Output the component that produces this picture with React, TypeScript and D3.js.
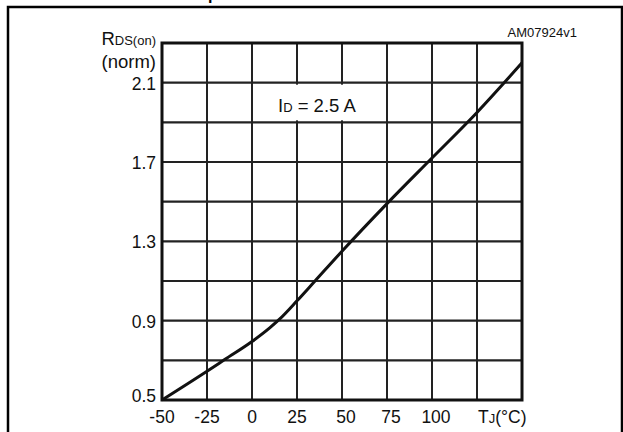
import React from "react";
import * as d3 from "d3";

const temps = [-50, -25, -15, 0, 10, 15, 25, 35, 50, 75, 100, 125, 150];
const rdsNorm = [0.5, 0.645, 0.705, 0.795, 0.865, 0.905, 1.0, 1.1, 1.25, 1.49, 1.72, 1.95, 2.2];
const xTicks = [-50, -25, 0, 25, 50, 75, 100];
const xGrid = [-50, -25, 0, 25, 50, 75, 100, 125, 150];
const yTicks = [0.5, 0.9, 1.3, 1.7, 2.1];
const yGrid = [0.5, 0.7, 0.9, 1.1, 1.3, 1.5, 1.7, 1.9, 2.1, 2.3];

const W = 623;
const H = 432;
const FONT = "'Liberation Sans', Arial, Helvetica, sans-serif";

export default function App() {
  const x = d3.scaleLinear().domain([-50, 150]).range([162, 522]);
  const y = d3.scaleLinear().domain([0.5, 2.3]).range([400, 43]);
  const pts: [number, number][] = temps.map((t, i) => [t, rdsNorm[i]]);
  const line = d3
    .line<[number, number]>()
    .x((d) => x(d[0]))
    .y((d) => y(d[1]))
    .curve(d3.curveMonotoneX);

  return (
    <svg
      width={W}
      height={H}
      style={{ position: "absolute", left: 0, top: 0, display: "block", background: "#fff" }}
      fontFamily={FONT}
    >
      <rect x={0} y={0} width={W} height={H} fill="#fff" />
      {/* cut-off title fragment */}
      <text x={208} y={0} fontSize={16} fontWeight="bold" fill="#000">p</text>
      {/* outer frame */}
      <path d={`M8,${H + 2} V7 H622 V${H + 2}`} fill="none" stroke="#000" strokeWidth={2.5} />

      {/* grid */}
      {xGrid.map((t) => (
        <line key={"vx" + t} x1={x(t)} x2={x(t)} y1={y(2.3)} y2={y(0.5)} stroke="#222" strokeWidth={2} />
      ))}
      {yGrid.map((v) => (
        <line key={"hy" + v} x1={x(-50)} x2={x(150)} y1={y(v)} y2={y(v)} stroke="#222" strokeWidth={2.2} />
      ))}

      {/* label box */}
      <rect x={268} y={y(2.1) + 2} width={112} height={y(1.9) - y(2.1) - 4} fill="#fff" />
      <text x={278} y={112} fontSize={18.5} fill="#111">
        I<tspan fontSize={13}>D</tspan> = 2.5 A
      </text>

      {/* border */}
      <rect
        x={x(-50)}
        y={y(2.3)}
        width={x(150) - x(-50)}
        height={y(0.5) - y(2.3)}
        fill="none"
        stroke="#111"
        strokeWidth={3}
      />

      {/* curve */}
      <path d={line(pts) || ""} fill="none" stroke="#111" strokeWidth={3} strokeLinejoin="round" />

      {/* y tick labels */}
      {yTicks.map((v) => (
        <text
          key={"yl" + v}
          x={156}
          y={v === 0.5 ? y(v) + 2 : y(v) + 7}
          textAnchor="end"
          fontSize={17.5}
          fill="#111"
        >
          {v.toFixed(1)}
        </text>
      ))}
      {/* x tick labels */}
      {xTicks.map((t) => (
        <text key={"xl" + t} x={x(t) + (t >= 50 ? 4 : 0)} y={423} textAnchor="middle" fontSize={17.5} fill="#111">
          {t}
        </text>
      ))}
      <text x={478} y={423} fontSize={17.5} fill="#111">
        T<tspan fontSize={13}>J</tspan>(°C)
      </text>

      {/* axis title */}
      <text x={156} y={45} textAnchor="end" fontSize={18.5} fill="#111">
        R<tspan fontSize={13}>DS(on)</tspan>
      </text>
      <text x={156} y={68} textAnchor="end" fontSize={18.5} fill="#111">
        (norm)
      </text>

      <text x={577} y={37} textAnchor="end" fontSize={13} fill="#111">
        AM07924v1
      </text>
    </svg>
  );
}
